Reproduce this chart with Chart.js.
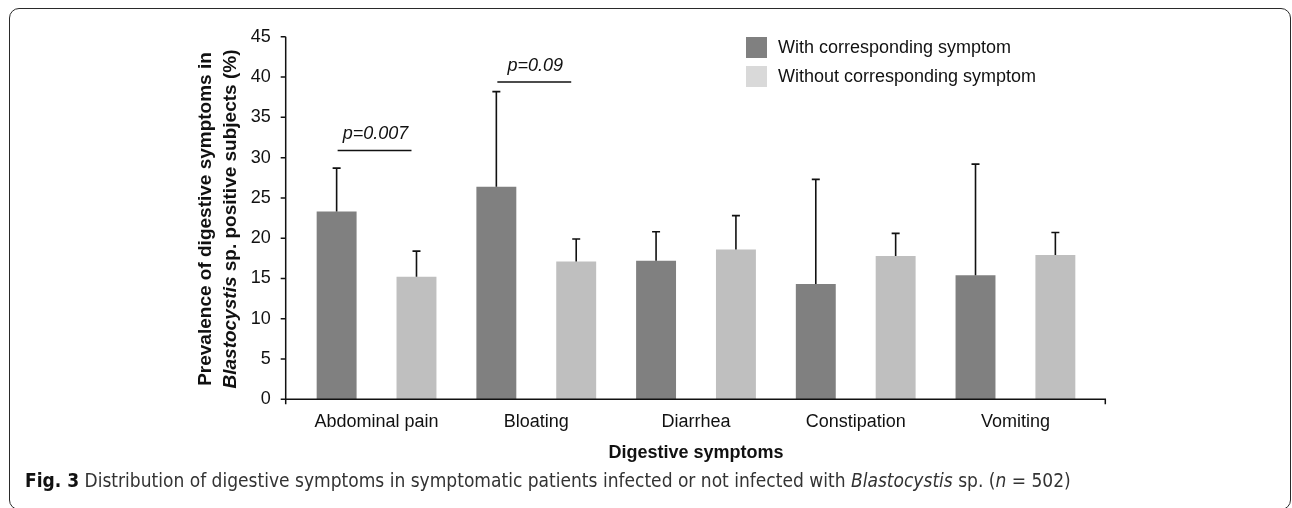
<!DOCTYPE html>
<html>
<head>
<meta charset="utf-8">
<script src="https://cdn.jsdelivr.net/npm/chart.js@4.4.0/dist/chart.umd.min.js"></script>
<style>
  body{ margin:0; background:#fff; width:1292px; height:508px; overflow:hidden; position:relative; font-family:"Liberation Sans", Arial, sans-serif; }
  #frame{ position:absolute; left:9px; top:8px; width:1280px; height:500px; border:1.5px solid #2a2a2a; border-radius:10px; }
  #wrap{ position:absolute; left:0; top:0; width:1292px; height:508px; }
  .leg{ position:absolute; left:746px; font-size:18px; color:#111; line-height:21px; }
  .leg i{ position:absolute; left:0; top:0; width:21px; height:21px; }
  .leg span{ position:absolute; left:32px; top:0; white-space:nowrap; }
  #caption{ position:absolute; left:25px; top:469px; font-family:"Liberation Sans Narrow","DejaVu Sans Condensed",sans-serif; font-size:19px; color:#333; white-space:nowrap; }
  #caption b{ color:#111; }
</style>
</head>
<body>
<div id="frame"></div>
<div id="wrap"><canvas id="chart" width="1292" height="508"></canvas></div>
<div class="leg" style="top:37px"><i style="background:#808080"></i><span>With corresponding symptom</span></div>
<div class="leg" style="top:66px"><i style="background:#d9d9d9"></i><span>Without corresponding symptom</span></div>
<div id="caption"><b>Fig. 3</b> Distribution of digestive symptoms in symptomatic patients infected or not infected with <i>Blastocystis</i> sp. (<i>n</i> = 502)</div>
<script>
// values
const categories = ['Abdominal pain', 'Bloating', 'Diarrhea', 'Constipation', 'Vomiting'];
const withSymptom = [23.3, 26.4, 17.2, 14.3, 15.4];
const withoutSymptom = [15.2, 17.1, 18.6, 17.8, 17.9];
// upper end of the error bars
const withErrTop = [28.7, 38.2, 20.8, 27.3, 29.2];
const withoutErrTop = [18.4, 19.9, 22.8, 20.6, 20.7];
const yTicks = [0, 5, 10, 15, 20, 25, 30, 35, 40, 45];
// significance brackets
const pLabels = ['p=0.007', 'p=0.09'];
const pCategory = [0, 1];
const pLineAt = [30.9, 39.4];

const FONT = '"Liberation Sans", Arial, sans-serif';

// error bars (upper only)
const errorBars = {
  id: 'errorBars',
  afterDatasetsDraw(chart){
    const ctx = chart.ctx, y = chart.scales.y;
    const tops = [withErrTop, withoutErrTop];
    ctx.save();
    ctx.strokeStyle = '#111'; ctx.lineWidth = 1.6;
    tops.forEach((arr, i) => {
      chart.getDatasetMeta(i).data.forEach((bar, j) => {
        const yt = y.getPixelForValue(arr[j]);
        ctx.beginPath();
        ctx.moveTo(bar.x, bar.y); ctx.lineTo(bar.x, yt);
        ctx.moveTo(bar.x - 4, yt); ctx.lineTo(bar.x + 4, yt);
        ctx.stroke();
      });
    });
    ctx.restore();
  }
};

// axes drawn excel-like, y axis sits a bit left of first category
const axesLines = {
  id: 'axesLines',
  afterDraw(chart){
    const ctx = chart.ctx, y = chart.scales.y, a = chart.chartArea;
    const ax = a.left - 11, y0 = y.getPixelForValue(0), yTop = y.getPixelForValue(45);
    ctx.save();
    ctx.strokeStyle = '#111'; ctx.lineWidth = 1.5;
    ctx.beginPath();
    ctx.moveTo(ax, yTop); ctx.lineTo(ax, y0 + 5);
    yTicks.forEach(v => { const p = y.getPixelForValue(v); ctx.moveTo(ax - 5, p); ctx.lineTo(ax, p); });
    ctx.moveTo(ax, y0); ctx.lineTo(a.right + 10, y0); ctx.lineTo(a.right + 10, y0 + 5);
    ctx.stroke();

    // p-value brackets
    ctx.fillStyle = '#111';
    ctx.font = 'italic 18px ' + FONT;
    ctx.textAlign = 'center'; ctx.textBaseline = 'alphabetic';
    pLabels.forEach((t, k) => {
      const c = pCategory[k];
      const x1 = chart.getDatasetMeta(0).data[c].x + 1;
      const x2 = chart.getDatasetMeta(1).data[c].x - 5;
      const ly = y.getPixelForValue(pLineAt[k]);
      ctx.beginPath(); ctx.moveTo(x1, ly); ctx.lineTo(x2, ly); ctx.stroke();
      ctx.fillText(t, (x1 + x2) / 2 + 1, ly - 11);
    });

    // y axis title, two lines with italic genus name
    const lines = [
      [{t:'Prevalence of digestive symptoms in', it:false}],
      [{t:'Blastocystis', it:true}, {t:' sp. positive subjects (%)', it:false}]
    ];
    const cx = [206, 231], cy = 219;
    lines.forEach((segs, li) => {
      ctx.save();
      ctx.translate(cx[li], cy);
      ctx.rotate(-Math.PI / 2);
      ctx.textAlign = 'left'; ctx.textBaseline = 'middle';
      let w = 0;
      segs.forEach(s => { ctx.font = (s.it ? 'italic ' : '') + 'bold 19px ' + FONT; w += ctx.measureText(s.t).width; });
      let x = -w / 2;
      segs.forEach(s => {
        ctx.font = (s.it ? 'italic ' : '') + 'bold 19px ' + FONT;
        ctx.fillText(s.t, x, 0);
        x += ctx.measureText(s.t).width;
      });
      ctx.restore();
    });
    ctx.restore();
  }
};

new Chart(document.getElementById('chart'), {
  type: 'bar',
  data: {
    labels: categories,
    datasets: [
      { label: 'With corresponding symptom', data: withSymptom, backgroundColor: '#808080' },
      { label: 'Without corresponding symptom', data: withoutSymptom, backgroundColor: '#bfbfbf' }
    ]
  },
  options: {
    responsive: false,
    animation: false,
    layout: { padding: { left: 0, right: 196.7, top: 31.7, bottom: 0 } },
    plugins: { legend: { display: false }, tooltip: { enabled: false } },
    datasets: { bar: { categoryPercentage: 1, barPercentage: 0.5 } },
    scales: {
      x: {
        grid: { display: false, drawTicks: false },
        border: { display: false },
        ticks: { color: '#111', font: { family: FONT, size: 18 }, padding: 12 },
        title: { display: true, text: 'Digestive symptoms', color: '#111', font: { family: FONT, size: 18, weight: 'bold' }, padding: { top: 4, bottom: 44 } },
        afterFit: s => { s.height = 108.7; }
      },
      y: {
        min: 0, max: 45,
        grid: { display: false, drawTicks: false },
        border: { display: false },
        ticks: { stepSize: 5, color: '#111', font: { family: FONT, size: 18 }, padding: 26 },
        afterFit: s => { s.width = 296.7; }
      }
    }
  },
  plugins: [errorBars, axesLines]
});
</script>
</body>
</html>
